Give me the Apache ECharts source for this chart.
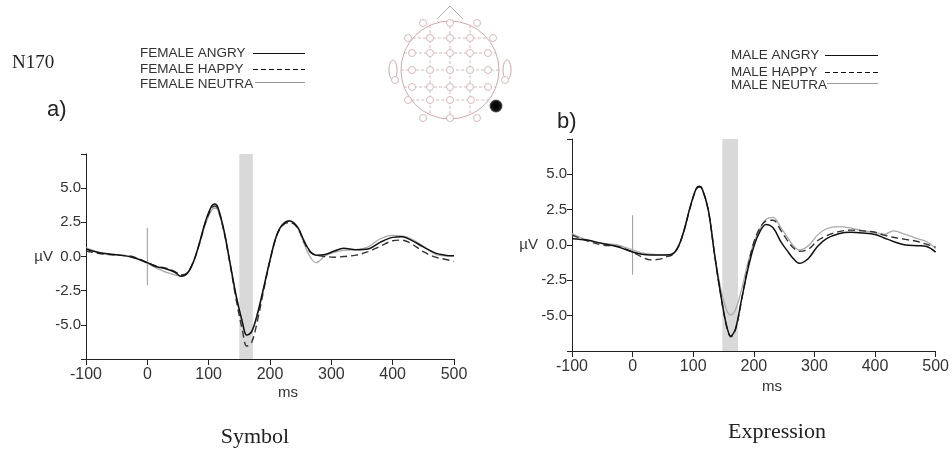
<!DOCTYPE html>
<html style="height: 100%">
<head>
    <meta charset="utf-8">
</head>
<body style="height: 100%; margin: 0; background: #fff">
    <div id="container" style="width: 952px; height: 452px"></div>
    <script type="text/javascript" src="https://cdn.jsdelivr.net/npm/echarts@6/dist/echarts.min.js"></script>
    <script type="text/javascript">
        // time points (ms) shared by every curve
        var times = [-100, -75, -50, -25, 0, 15, 30, 45, 55, 65, 75, 85, 95, 105, 110, 115, 125, 135, 145, 155,
            162, 170, 180, 190, 200, 210, 220, 232, 245, 255, 265, 275, 290, 305, 320, 340, 360, 380, 400,
            415, 430, 450, 470, 485, 500];

        // a) Symbol  (female faces)
        var femaleAngry = [0.55, 0.25, 0.12, -0.05, -0.45, -0.75, -0.9, -1.15, -1.45, -1.25, -0.4, 1.0, 2.6, 3.7,
            3.85, 3.6, 1.9, -0.5, -2.9, -4.8, -5.75, -5.5, -4.1, -2.2, -0.25, 1.45, 2.3, 2.6, 2.15, 1.2, 0.4,
            0.1, 0.15, 0.4, 0.6, 0.5, 0.55, 1.05, 1.4, 1.45, 1.2, 0.7, 0.25, 0.1, 0.05];
        var femaleHappy = [0.4, 0.2, 0.1, 0, -0.45, -0.7, -0.85, -1.1, -1.35, -1.2, -0.4, 0.95, 2.5, 3.55,
            3.7, 3.5, 1.8, -0.6, -3.2, -5.4, -6.55, -6.3, -4.6, -2.4, -0.3, 1.4, 2.25, 2.5, 2.1, 1.1, 0.35,
            0.1, 0, -0.05, 0, 0.1, 0.35, 0.75, 1.15, 1.2, 0.95, 0.35, -0.05, -0.2, -0.35];
        var femaleNeutral = [0.65, 0.25, 0.12, 0, -0.5, -0.85, -1.15, -1.35, -1.45, -1.2, -0.45, 0.9, 2.4, 3.4,
            3.55, 3.4, 1.8, -0.55, -3.0, -4.9, -5.8, -5.55, -4.2, -2.3, -0.35, 1.4, 2.35, 2.65, 2.1, 1.0, 0.0,
            -0.45, 0.05, 0.3, 0.45, 0.5, 0.7, 1.3, 1.55, 1.5, 1.3, 0.75, 0.15, 0.05, 0.05];

        // b) Expression  (male faces)
        var maleAngry = [0.45, 0.35, 0.1, -0.12, -0.5, -0.65, -0.7, -0.7, -0.7, -0.65, -0.15, 1.05, 2.7, 4.0,
            4.15, 3.95, 2.45, -0.6, -3.4, -5.7, -6.45, -5.9, -3.8, -1.75, -0.1, 0.95, 1.45, 1.2, 0.2, -0.4,
            -0.95, -1.3, -0.95, -0.1, 0.45, 0.8, 0.9, 0.85, 0.75, 0.5, 0.25, 0, -0.05, -0.1, -0.5];
        var maleHappy = [0.7, 0.3, 0.0, -0.1, -0.5, -0.85, -1.05, -1.0, -0.85, -0.7, -0.15, 1.05, 2.65, 3.95,
            4.1, 3.95, 2.45, -0.6, -3.45, -5.75, -6.5, -5.95, -3.85, -1.6, 0.2, 1.2, 1.7, 1.75, 1.0, 0.35,
            -0.2, -0.45, -0.3, 0.3, 0.65, 0.95, 1.05, 1.0, 0.9, 0.7, 0.55, 0.4, 0.25, 0.05, -0.15];
        var maleNeutral = [0.8, 0.35, 0.12, 0, -0.35, -0.55, -0.65, -0.7, -0.7, -0.65, -0.15, 1.05, 2.7, 4.0,
            4.1, 3.95, 2.45, -0.55, -3.0, -4.6, -4.95, -4.55, -3.1, -1.3, 0.15, 1.15, 1.8, 1.95, 1.2, 0.6,
            -0.05, -0.35, -0.05, 0.7, 1.15, 1.3, 1.2, 1.0, 0.9, 0.75, 1.0, 0.75, 0.45, 0.25, -0.25];

        // N170 window (ms) and stimulus onset marker
        var windowA = [150, 172];
        var windowB = [148, 174];
        var onsetX = [0, 0];
        var onsetY = [-2.1, 2.1];

        var yTicks = [-5.0, -2.5, 0.0, 2.5, 5.0];
        var legendA = ['FEMALE ANGRY', 'FEMALE HAPPY', 'FEMALE NEUTRA'];
        var legendB = ['MALE ANGRY', 'MALE HAPPY', 'MALE NEUTRA'];

        function pairs(xs, ys) {
            return xs.map(function (x, i) { return [x, ys[i]]; });
        }

        var font = 'Liberation Sans';
        var styles = [
            { color: '#111', width: 1.5, dash: 'solid' },   // angry
            { color: '#333', width: 1.4, dash: [7, 4] },    // happy
            { color: '#aaa', width: 1.3, dash: 'solid' }    // neutral
        ];

        function xAx(idx) {
            return {
                gridIndex: idx, type: 'value', min: -100, max: 500, interval: 100,
                axisLine: { onZero: false, lineStyle: { color: '#222', width: 1 } },
                axisTick: { length: 6, lineStyle: { color: '#222' } },
                splitLine: { show: false },
                axisLabel: { fontSize: 16, color: '#333', fontFamily: font, margin: 8 }
            };
        }
        function yAx(idx) {
            return {
                gridIndex: idx, type: 'value', min: -7.5, max: 7.5, interval: 2.5,
                axisLine: { show: true, onZero: false, lineStyle: { color: '#222', width: 1 } },
                axisTick: { show: true, length: 5, lineStyle: { color: '#222' } },
                splitLine: { show: false },
                axisLabel: {
                    fontSize: 15, color: '#333', fontFamily: font, margin: 5,
                    formatter: function (v) {
                        return yTicks.indexOf(v) >= 0 ? v.toFixed(1) : '';
                    }
                }
            };
        }

        function curve(name, idx, ys, st) {
            return {
                name: name, type: 'line', xAxisIndex: idx, yAxisIndex: idx,
                data: pairs(times, ys), symbol: 'none', smooth: 0.35,
                z: 3, lineStyle: { color: st.color, width: st.width, type: st.dash },
                itemStyle: { color: st.color }
            };
        }

        function band(idx, win) {
            return {
                type: 'line', xAxisIndex: idx, yAxisIndex: idx, data: [], silent: true, z: 1,
                markArea: {
                    silent: true,
                    itemStyle: { color: '#d9d9d9' },
                    data: [[{ xAxis: win[0] }, { xAxis: win[1] }]]
                }
            };
        }

        function onset(idx) {
            return {
                type: 'line', xAxisIndex: idx, yAxisIndex: idx, data: pairs(onsetX, onsetY),
                symbol: 'none', silent: true, z: 2, lineStyle: { color: '#999', width: 1 }
            };
        }

        // scalp map decoration
        var headCx = 450, headCy = 70, headR = 49;
        var electrodes = [
            [423, 23], [450, 23], [477, 23],
            [408, 38], [430, 38], [450, 38], [470, 38], [493, 38],
            [412, 53], [430, 53], [450, 53], [470, 53], [488, 53],
            [412, 70], [430, 70], [450, 70], [470, 70], [488, 70],
            [412, 87], [430, 87], [450, 87], [470, 87], [488, 87],
            [408, 100], [430, 100], [450, 100], [471, 100],
            [423, 118], [450, 118], [477, 118],
            [395, 80], [505, 80]
        ];
        var pink = '#cfa9a9';
        var head = [];
        [38, 53, 70, 87, 100].forEach(function (y) {
            var dx = Math.sqrt(headR * headR - (y - headCy) * (y - headCy));
            head.push({ type: 'line', shape: { x1: headCx - dx, y1: y, x2: headCx + dx, y2: y },
                style: { stroke: pink, lineWidth: 0.8, lineDash: [3, 2] } });
        });
        [430, 450, 470].forEach(function (x) {
            var dy = Math.sqrt(headR * headR - (x - headCx) * (x - headCx));
            head.push({ type: 'line', shape: { x1: x, y1: headCy - dy, x2: x, y2: headCy + dy },
                style: { stroke: pink, lineWidth: 0.8, lineDash: [3, 2] } });
        });
        head.push({ type: 'circle', shape: { cx: headCx, cy: headCy, r: headR },
            style: { fill: 'none', stroke: pink, lineWidth: 1 } });
        head.push({ type: 'polyline', shape: { points: [[437, 19], [450, 6], [463, 19]] },
            style: { fill: 'none', stroke: pink, lineWidth: 1 } });
        head.push({ type: 'ellipse', shape: { cx: 393, cy: 70, rx: 4, ry: 10 },
            style: { fill: 'none', stroke: pink, lineWidth: 1 } });
        head.push({ type: 'ellipse', shape: { cx: 507, cy: 70, rx: 4, ry: 10 },
            style: { fill: 'none', stroke: pink, lineWidth: 1 } });
        electrodes.forEach(function (p) {
            head.push({ type: 'circle', shape: { cx: p[0], cy: p[1], r: 3.5 },
                style: { fill: '#fff', stroke: pink, lineWidth: 0.8 } });
        });
        head.push({ type: 'circle', shape: { cx: 496, cy: 106, r: 6.5 },
            style: { fill: new echarts.graphic.RadialGradient(0.5, 0.5, 0.5,
                [{ offset: 0, color: '#000' }, { offset: 0.7, color: '#111' }, { offset: 1, color: '#666' }]) } });

        function txt(x, y, s, size, family, align, color) {
            return { type: 'text', x: x, y: y, silent: true,
                style: { text: s, fontSize: size, fontFamily: family, fill: color || '#222',
                    textAlign: align || 'left', textVerticalAlign: 'middle' } };
        }

        // hand-drawn legend: text column, then a line sample
        function legendBlock(names, textX, lineX1, lineX2, ys) {
            var out = [];
            names.forEach(function (n, i) {
                var st = styles[i];
                var ly = ys[i] + 0.5;
                out.push(txt(textX, ys[i] + (i === 2 ? 2 : 0), n, 13.5, font, 'left', '#333'));
                out.push({ type: 'line', silent: true,
                    shape: { x1: i === 2 ? lineX1 + 2 : lineX1, y1: ly, x2: lineX2, y2: ly },
                    style: { stroke: i === 2 ? '#999' : '#111', lineWidth: 1,
                        lineDash: i === 1 ? [5, 3] : null } });
            });
            return out;
        }

        var labels = [
            txt(12, 63, 'N170', 19, 'Liberation Serif'),
            txt(47, 110, 'a)', 22, font),
            txt(557, 122, 'b)', 22, font),
            txt(53, 257, 'µV', 15, font, 'right', '#333'),
            txt(538, 245, 'µV', 15, font, 'right', '#333'),
            txt(288, 393, 'ms', 15, font, 'center', '#333'),
            txt(772, 387, 'ms', 15, font, 'center', '#333'),
            txt(255, 437, 'Symbol', 22, 'Liberation Serif', 'center'),
            txt(777, 432, 'Expression', 22, 'Liberation Serif', 'center')
        ]
            .concat(legendBlock(legendA, 140, 253, 305, [53, 69, 82]))
            .concat(legendBlock(legendB, 731, 825, 878, [55, 72, 83]));

        var dom = document.getElementById("container");
        var myChart = echarts.init(dom);

        option = {
            backgroundColor: '#fff',
            animation: false,
            grid: [
                { left: 86, top: 154, width: 368, height: 205 },
                { left: 572, top: 139, width: 364, height: 212 }
            ],
            xAxis: [xAx(0), xAx(1)],
            yAxis: [yAx(0), yAx(1)],
            graphic: head.concat(labels),
            series: [
                band(0, windowA),
                onset(0),
                curve(legendA[2], 0, femaleNeutral, styles[2]),
                curve(legendA[1], 0, femaleHappy, styles[1]),
                curve(legendA[0], 0, femaleAngry, styles[0]),
                band(1, windowB),
                onset(1),
                curve(legendB[2], 1, maleNeutral, styles[2]),
                curve(legendB[1], 1, maleHappy, styles[1]),
                curve(legendB[0], 1, maleAngry, styles[0])
            ]
        };

        if (option && typeof option === "object") {
            myChart.setOption(option, true);
        }
    </script>
</body>
</html>
